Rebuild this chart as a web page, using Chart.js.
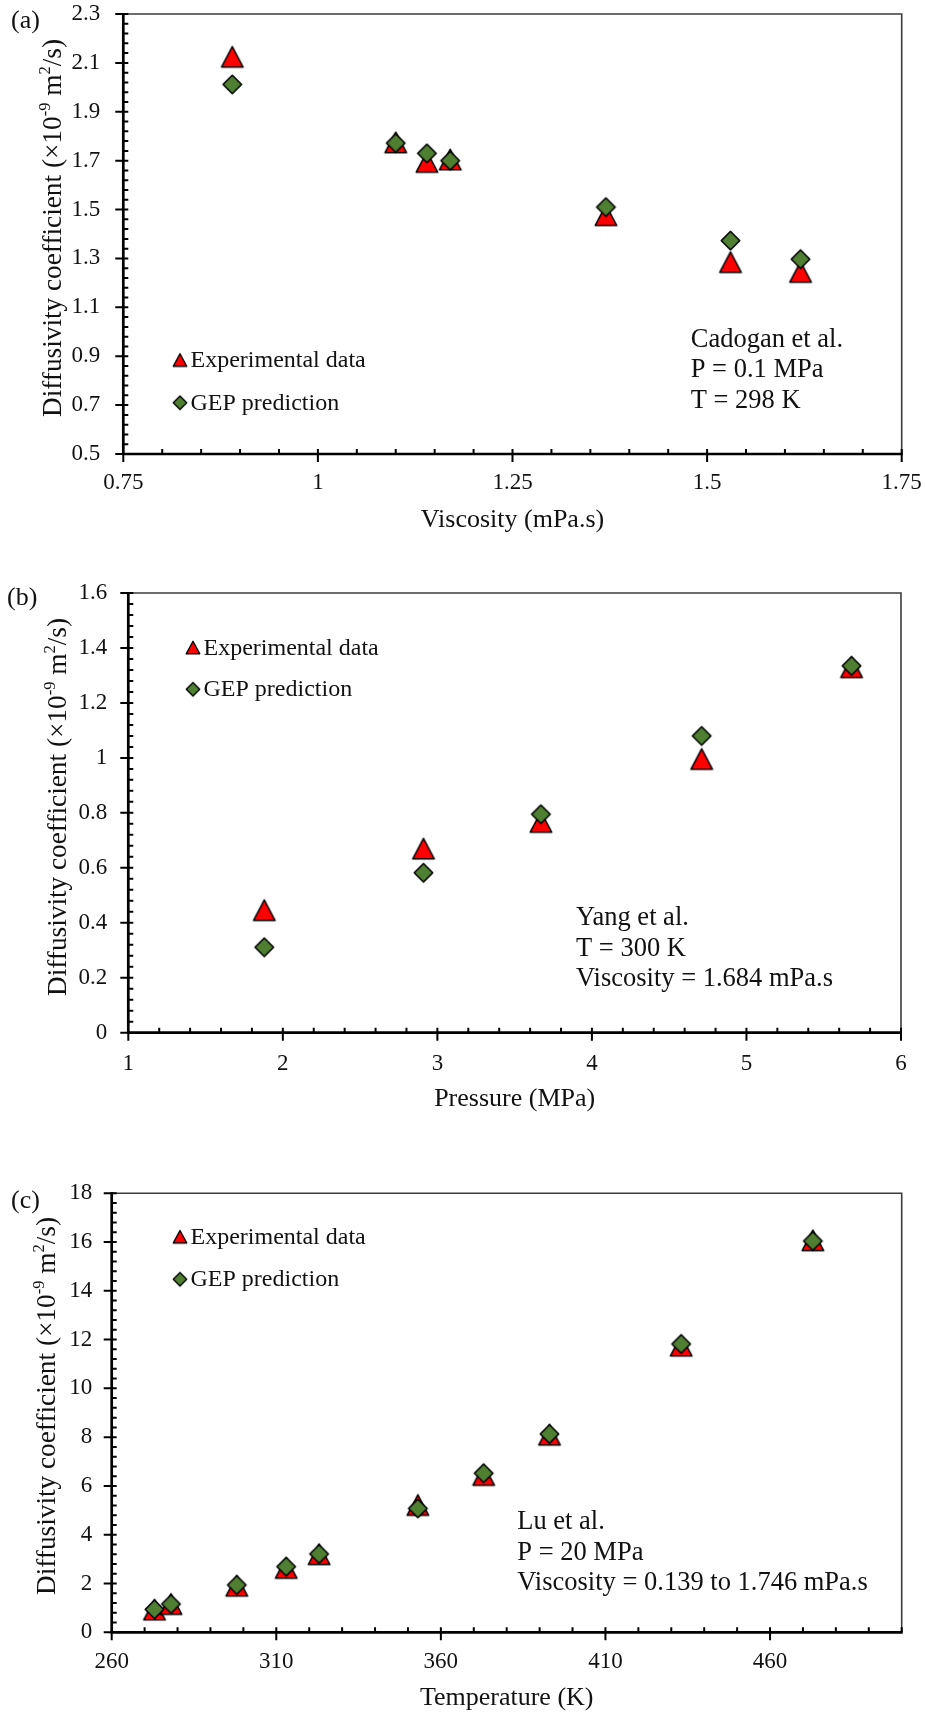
<!DOCTYPE html>
<html>
<head>
<meta charset="utf-8">
<script src="https://cdn.jsdelivr.net/npm/chart.js@4.4.0/dist/chart.umd.min.js"></script>
<style>
  html, body { margin: 0; padding: 0; background: #fff; }
  .panel { position: absolute; left: 0; width: 925px; }
</style>
</head>
<body>
<div class="panel" style="top:0;height:570px"><canvas id="chartA" width="925" height="570"></canvas></div>
<div class="panel" style="top:570px;height:570px"><canvas id="chartB" width="925" height="570"></canvas></div>
<div class="panel" style="top:1140px;height:575px"><canvas id="chartC" width="925" height="575"></canvas></div>
<script>
// --- data ---
// (a) Cadogan et al., P = 0.1 MPa, T = 298 K
const viscosityA = [0.89, 1.10, 1.14, 1.17, 1.37, 1.53, 1.62];
const expA = [2.125, 1.775, 1.695, 1.705, 1.477, 1.285, 1.245];
const gepA = [2.012, 1.772, 1.73, 1.70, 1.51, 1.373, 1.297];
const xTicksA = [0.75, 1, 1.25, 1.5, 1.75];
const yTicksA = [0.5, 0.7, 0.9, 1.1, 1.3, 1.5, 1.7, 1.9, 2.1, 2.3];

// (b) Yang et al., T = 300 K
const pressureB = [1.88, 2.91, 3.67, 4.71, 5.68];
const expB = [0.446, 0.670, 0.767, 0.996, 1.33];
const gepB = [0.311, 0.582, 0.795, 1.080, 1.335];
const xTicksB = [1, 2, 3, 4, 5, 6];
const yTicksB = [0, 0.2, 0.4, 0.6, 0.8, 1, 1.2, 1.4, 1.6];

// (c) Lu et al., P = 20 MPa
const temperatureC = [273, 278, 298, 313, 323, 353, 373, 393, 433, 473];
const expC = [0.93, 1.16, 1.91, 2.64, 3.20, 5.22, 6.45, 8.10, 11.75, 16.07];
const gepC = [0.94, 1.16, 1.94, 2.69, 3.21, 5.08, 6.52, 8.13, 11.82, 16.04];
const xTicksC = [260, 310, 360, 410, 460];
const yTicksC = [0, 2, 4, 6, 8, 10, 12, 14, 16, 18];

const seriesNames = ['Experimental data', 'GEP prediction'];
const yTitleParts = [['Diffusivity coefficient (\u00d710', 0], ['-9', 1], [' m', 0], ['2', 1], ['/s)', 0]];

const SERIF = '"Liberation Serif", "Times New Roman", serif';
const RED = '#ff0000';
const GREEN = '#4f7f31';

// marker images (centered on their bounding box, like the spreadsheet markers)
function makeTriangle(w, h, lw) {
  const c = document.createElement('canvas');
  c.width = Math.round(w) + 8; c.height = Math.round(h) + 8;
  const g = c.getContext('2d');
  const cx = c.width / 2, cy = c.height / 2;
  g.beginPath();
  g.moveTo(cx, cy - h / 2);
  g.lineTo(cx + w / 2, cy + h / 2);
  g.lineTo(cx - w / 2, cy + h / 2);
  g.closePath();
  g.fillStyle = RED; g.fill();
  g.lineWidth = lw; g.strokeStyle = '#000'; g.lineJoin = 'round'; g.stroke();
  return c;
}
function makeDiamond(w, h, lw) {
  const c = document.createElement('canvas');
  c.width = Math.round(w) + 8; c.height = Math.round(h) + 8;
  const g = c.getContext('2d');
  const cx = c.width / 2, cy = c.height / 2;
  g.beginPath();
  g.moveTo(cx, cy - h / 2);
  g.lineTo(cx + w / 2, cy);
  g.lineTo(cx, cy + h / 2);
  g.lineTo(cx - w / 2, cy);
  g.closePath();
  g.fillStyle = GREEN; g.fill();
  g.lineWidth = lw; g.strokeStyle = '#000'; g.lineJoin = 'round'; g.stroke();
  return c;
}
const triBig = makeTriangle(21.5, 20.5, 1.6);
const diaBig = makeDiamond(18.5, 18.5, 1.6);
const triSmall = makeTriangle(13.5, 12.5, 1.4);
const diaSmall = makeDiamond(13.5, 13.5, 1.4);

function fmt(v) { return String(+(+v).toFixed(2)); }

// axes box, Excel-like ticks, titles, legend and notes
const figurePlugin = {
  id: 'figure',
  beforeDatasetsDraw(chart, args, o) {
    const { ctx, chartArea: a, scales: { x, y } } = chart;
    ctx.save();
    ctx.strokeStyle = '#3c3c3c';
    ctx.lineWidth = 1.6;
    ctx.beginPath();
    ctx.moveTo(a.left, a.top); ctx.lineTo(a.right, a.top); ctx.lineTo(a.right, a.bottom);
    ctx.stroke();

    ctx.strokeStyle = '#000';
    ctx.lineWidth = 2;
    ctx.beginPath();
    const xs = o.xStep / 5, ys = o.yStep / 5;
    const nx = Math.round((x.max - x.min) / xs), ny = Math.round((y.max - y.min) / ys);
    for (let k = 1; k <= nx; k++) {
      const px = x.getPixelForValue(x.min + k * xs);
      if (k % 5 === 0) { ctx.moveTo(px, a.bottom + 8); ctx.lineTo(px, a.bottom - 5); }
      else { ctx.moveTo(px, a.bottom); ctx.lineTo(px, a.bottom - 5); }
    }
    for (let k = 1; k <= ny; k++) {
      const py = y.getPixelForValue(y.min + k * ys);
      if (k % 5 === 0) { ctx.moveTo(a.left - 8, py); ctx.lineTo(a.left + 5, py); }
      else { ctx.moveTo(a.left, py); ctx.lineTo(a.left + 5, py); }
    }
    ctx.moveTo(a.left - 8, a.bottom); ctx.lineTo(a.left, a.bottom);
    ctx.moveTo(a.left, a.bottom); ctx.lineTo(a.left, a.bottom + 8);
    ctx.stroke();

    ctx.lineWidth = 2.7;
    ctx.beginPath();
    ctx.moveTo(a.left, a.top - 1); ctx.lineTo(a.left, a.bottom);
    ctx.lineTo(a.right + 1, a.bottom);
    ctx.stroke();
    ctx.restore();
  },
  afterDraw(chart, args, o) {
    const { ctx, chartArea: a } = chart;
    const dy = o.offY;
    ctx.save();
    ctx.fillStyle = '#111';
    ctx.textBaseline = 'alphabetic';
    ctx.textAlign = 'left';

    // panel letter
    ctx.font = '26px ' + SERIF;
    ctx.fillText(o.tag, o.tagX, o.tagY - dy);

    // x title
    ctx.textAlign = 'center';
    ctx.fillText(o.xTitle, (a.left + a.right) / 2, a.bottom + 73);

    // y title with superscripts
    const size = 28, sup = 17;
    let total = 0;
    yTitleParts.forEach(([t, s]) => { ctx.font = (s ? sup : size) + 'px ' + SERIF; total += ctx.measureText(t).width; });
    const k = Math.min(1, o.yTitleLen / total);
    ctx.save();
    ctx.translate(o.yTitleX, o.yTitleY - dy);
    ctx.rotate(-Math.PI / 2);
    ctx.scale(k, 1);
    ctx.textAlign = 'left';
    let px = -total / 2;
    yTitleParts.forEach(([t, s]) => {
      ctx.font = (s ? sup : size) + 'px ' + SERIF;
      ctx.fillText(t, px, s ? -11 : 0);
      px += ctx.measureText(t).width;
    });
    ctx.restore();

    // legend
    ctx.textAlign = 'left';
    ctx.font = '24px ' + SERIF;
    const marks = [triSmall, diaSmall];
    seriesNames.forEach((name, i) => {
      const cy = o.legY[i] - dy;
      ctx.drawImage(marks[i], o.legX - marks[i].width / 2, cy - marks[i].height / 2);
      ctx.fillText(name, o.legX + 10.5, cy + 7);
    });

    // note
    ctx.font = '26.5px ' + SERIF;
    o.note.forEach((line, i) => ctx.fillText(line, o.noteX, o.noteY - dy + i * 30.5));
    ctx.restore();
  }
};

function makeChart(id, xs, exp, gep, cfg) {
  const toPts = arr => arr.map((v, i) => ({ x: xs[i], y: v }));
  return new Chart(document.getElementById(id), {
    type: 'scatter',
    data: {
      datasets: [
        { label: seriesNames[0], data: toPts(exp), pointStyle: triBig, order: 2 },
        { label: seriesNames[1], data: toPts(gep), pointStyle: diaBig, order: 1 }
      ]
    },
    options: {
      responsive: false,
      animation: false,
      events: [],
      layout: { padding: { left: 0, top: cfg.top, right: cfg.right, bottom: 0 } },
      plugins: {
        legend: { display: false },
        tooltip: { enabled: false },
        figure: cfg.fig
      },
      scales: {
        x: {
          type: 'linear', min: cfg.xMin, max: cfg.xMax,
          grid: { display: false, drawTicks: false },
          border: { display: false },
          afterBuildTicks: s => { s.ticks = cfg.xTicks.map(v => ({ value: v })); },
          afterFit: s => { s.height = cfg.xHeight; s.paddingLeft = 0; s.paddingRight = 0; },
          ticks: {
            maxRotation: 0, minRotation: 0, autoSkip: false,
            padding: cfg.xPad, color: '#111', font: { family: SERIF, size: 23 },
            callback: fmt
          }
        },
        y: {
          type: 'linear', min: cfg.yMin, max: cfg.yMax,
          grid: { display: false, drawTicks: false },
          border: { display: false },
          afterBuildTicks: s => { s.ticks = cfg.yTicks.map(v => ({ value: v })); },
          afterFit: s => { s.width = cfg.yWidth; s.paddingTop = 0; s.paddingBottom = 0; },
          ticks: {
            autoSkip: false,
            padding: cfg.yPad, color: '#111', font: { family: SERIF, size: 23 },
            callback: fmt
          }
        }
      }
    },
    plugins: [figurePlugin]
  });
}

makeChart('chartA', viscosityA, expA, gepA, {
  top: 14, right: 23.3, yWidth: 123.3, xHeight: 116,
  xMin: 0.75, xMax: 1.75, yMin: 0.5, yMax: 2.3,
  xTicks: xTicksA, yTicks: yTicksA,
  xPad: 15, yPad: 23,
  fig: {
    offY: 0, xStep: 0.25, yStep: 0.2,
    tag: '(a)', tagX: 11, tagY: 28,
    xTitle: 'Viscosity (mPa.s)',
    yTitleX: 61, yTitleY: 228, yTitleLen: 378,
    legX: 180, legY: [360, 402.7],
    note: ['Cadogan et al.', 'P = 0.1 MPa', 'T = 298 K'], noteX: 690.7, noteY: 346.7
  }
});

makeChart('chartB', pressureB, expB, gepB, {
  top: 23, right: 24, yWidth: 128.3, xHeight: 107.3,
  xMin: 1, xMax: 6, yMin: 0, yMax: 1.6,
  xTicks: xTicksB, yTicks: yTicksB,
  xPad: 17, yPad: 21,
  fig: {
    offY: 570, xStep: 1, yStep: 0.2,
    tag: '(b)', tagX: 7, tagY: 605,
    xTitle: 'Pressure (MPa)',
    yTitleX: 66, yTitleY: 807, yTitleLen: 378,
    legX: 193, legY: [647.5, 689.3],
    note: ['Yang et al.', 'T = 300 K', 'Viscosity = 1.684 mPa.s'], noteX: 576, noteY: 925
  }
});

makeChart('chartC', temperatureC, expC, gepC, {
  top: 53.2, right: 23.3, yWidth: 111.7, xHeight: 82.7,
  xMin: 260, xMax: 500, yMin: 0, yMax: 18,
  xTicks: xTicksC, yTicks: yTicksC,
  xPad: 15.5, yPad: 19.5,
  fig: {
    offY: 1140, xStep: 50, yStep: 2,
    tag: '(c)', tagX: 11, tagY: 1208,
    xTitle: 'Temperature (K)',
    yTitleX: 55, yTitleY: 1406, yTitleLen: 378,
    legX: 180, legY: [1236.7, 1279.3],
    note: ['Lu et al.', 'P = 20 MPa', 'Viscosity = 0.139 to 1.746 mPa.s'], noteX: 517.3, noteY: 1529.3
  }
});
</script>
</body>
</html>
